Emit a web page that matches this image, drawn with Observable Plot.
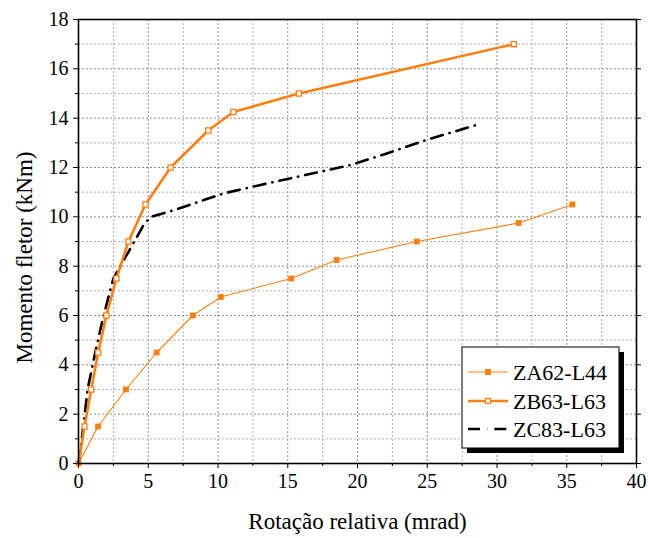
<!DOCTYPE html>
<html><head><meta charset="utf-8">
<script src="https://cdn.jsdelivr.net/npm/d3@7"></script>
<script src="https://cdn.jsdelivr.net/npm/@observablehq/plot@0.6"></script>
<style>body{margin:0;background:#fff} #chart svg{display:block}</style>
</head><body><div id="chart"></div>
<script>
const seriesNames = ["ZA62-L44", "ZB63-L63", "ZC83-L63"];
const zaX = [0, 1.4, 3.4, 5.6, 8.2, 10.2, 15.25, 18.5, 24.25, 31.55, 35.4];
const zaY = [0, 1.5, 3, 4.5, 6, 6.75, 7.5, 8.25, 9, 9.75, 10.5];
const zbX = [0, 0.43, 0.91, 1.41, 2.0, 2.72, 3.58, 4.8, 6.6, 9.3, 11.1, 15.8, 31.2];
const zbY = [0, 1.5, 3, 4.5, 6, 7.5, 9, 10.5, 12, 13.5, 14.25, 15, 17];
const zcX = [0, 0.35, 0.65, 1.2, 1.8, 2.5, 3.7, 4.7, 5.2, 7, 10.4, 13.5, 17.5, 19.5, 22, 25, 28.8];
const zcY = [0, 1.5, 3, 4.5, 6, 7.5, 8.7, 9.7, 10, 10.3, 10.95, 11.35, 11.85, 12.1, 12.55, 13.13, 13.77];
const xMajor = [0, 5, 10, 15, 20, 25, 30, 35, 40];
const xMinor = [2.5, 7.5, 12.5, 17.5, 22.5, 27.5, 32.5, 37.5];
const yMajor = [0, 2, 4, 6, 8, 10, 12, 14, 16, 18];
const yMinor = [1, 3, 5, 7, 9, 11, 13, 15, 17];
const xTitle = "Rotação relativa (mrad)";
const yTitle = "Momento fletor (kNm)";

const orange = "#ff7f0e";
const serif = "'Liberation Serif', 'DejaVu Serif', 'Times New Roman', serif";
const toRows = (xs, ys) => xs.map((x, i) => ({x, y: ys[i]}));
const za = toRows(zaX, zaY), zb = toRows(zbX, zbY), zc = toRows(zcX, zcY);
const zcDash = "12,7,0.3,7";

const chart = Plot.plot({
  width: 648, height: 538,
  marginLeft: 78, marginRight: 12, marginTop: 19, marginBottom: 75,
  x: {domain: [0, 40]},
  y: {domain: [0, 18]},
  style: {fontFamily: serif, fontSize: "20px", color: "#000", background: "#fff"},
  marks: [
    Plot.gridX(xMinor, {stroke: "#b0b0b0", strokeOpacity: 1, strokeDasharray: "2,2"}),
    Plot.gridX(xMajor.slice(1, -1), {stroke: "#8a8a8a", strokeOpacity: 1, strokeDasharray: "2,2"}),
    Plot.gridY(yMinor, {stroke: "#b0b0b0", strokeOpacity: 1, strokeDasharray: "2,2"}),
    Plot.gridY(yMajor.slice(1, -1), {stroke: "#8a8a8a", strokeOpacity: 1, strokeDasharray: "2,2"}),
    Plot.line(za, {x: "x", y: "y", stroke: orange, strokeWidth: 1.1}),
    Plot.dot(za, {x: "x", y: "y", symbol: "square", fill: orange, r: 3.3}),
    Plot.line(zc, {x: "x", y: "y", stroke: "#000", strokeWidth: 2.6, strokeDasharray: zcDash}),
    Plot.line(zb, {x: "x", y: "y", stroke: orange, strokeWidth: 2.6}),
    Plot.dot(zb.slice(1), {x: "x", y: "y", symbol: "square", fill: "#fff", stroke: orange, strokeWidth: 1.3, r: 2.9}),
    Plot.frame({stroke: "#000", strokeWidth: 1.6}),
    Plot.axisX(xMajor, {tickSize: 5, tickPadding: 5, label: null, fontSize: 20, fontFamily: serif, tickFormat: d => d}),
    Plot.axisX(xMinor, {tickSize: 3, label: null, tickFormat: () => ""}),
    Plot.axisY(yMajor, {tickSize: 5, tickPadding: 5, label: null, fontSize: 20, fontFamily: serif, tickFormat: d => d}),
    Plot.axisY(yMinor, {tickSize: 3, label: null, tickFormat: () => ""}),
    Plot.axisY(yMajor, {anchor: "right", tickSize: 4, label: null, tickFormat: () => ""}),
    Plot.text([xTitle], {frameAnchor: "bottom", dy: 58, fontSize: 23, fontFamily: serif, textAnchor: "middle", lineAnchor: "middle"}),
    Plot.text([yTitle], {frameAnchor: "left", dx: -54, dy: 16, rotate: -90, fontSize: 23, fontFamily: serif, textAnchor: "middle", lineAnchor: "middle"})
  ]
});
document.getElementById("chart").appendChild(chart);

// Legend
const svg = d3.select(chart);
const lg = svg.append("g").attr("font-family", serif).attr("font-size", 22).attr("text-anchor", "start");
const bx = 462, by = 347, bw = 157, bh = 101;
lg.append("rect").attr("x", bx + 5).attr("y", by + 5).attr("width", bw).attr("height", bh).attr("fill", "#000");
lg.append("rect").attr("x", bx).attr("y", by).attr("width", bw).attr("height", bh).attr("fill", "#fff").attr("stroke", "#000").attr("stroke-width", 1);
const styles = [
  {stroke: orange, w: 1.1, dash: null, marker: "filled"},
  {stroke: orange, w: 2.6, dash: null, marker: "open"},
  {stroke: "#000", w: 2.6, dash: zcDash, marker: null}
];
const rowY = [372, 401, 429];
seriesNames.forEach((name, i) => {
  const s = styles[i], yy = rowY[i];
  lg.append("line").attr("x1", 468).attr("x2", 508).attr("y1", yy).attr("y2", yy)
    .attr("stroke", s.stroke).attr("stroke-width", s.w).attr("stroke-dasharray", s.dash);
  if (s.marker === "filled") lg.append("rect").attr("x", 485).attr("y", yy - 3).attr("width", 6).attr("height", 6).attr("fill", orange);
  if (s.marker === "open") lg.append("rect").attr("x", 485.5).attr("y", yy - 2.5).attr("width", 5).attr("height", 5).attr("fill", "#fff").attr("stroke", orange).attr("stroke-width", 1.3);
  lg.append("text").attr("x", 513).attr("y", yy).attr("dy", "0.35em").attr("text-anchor", "start").text(name);
});
</script>
</body></html>
